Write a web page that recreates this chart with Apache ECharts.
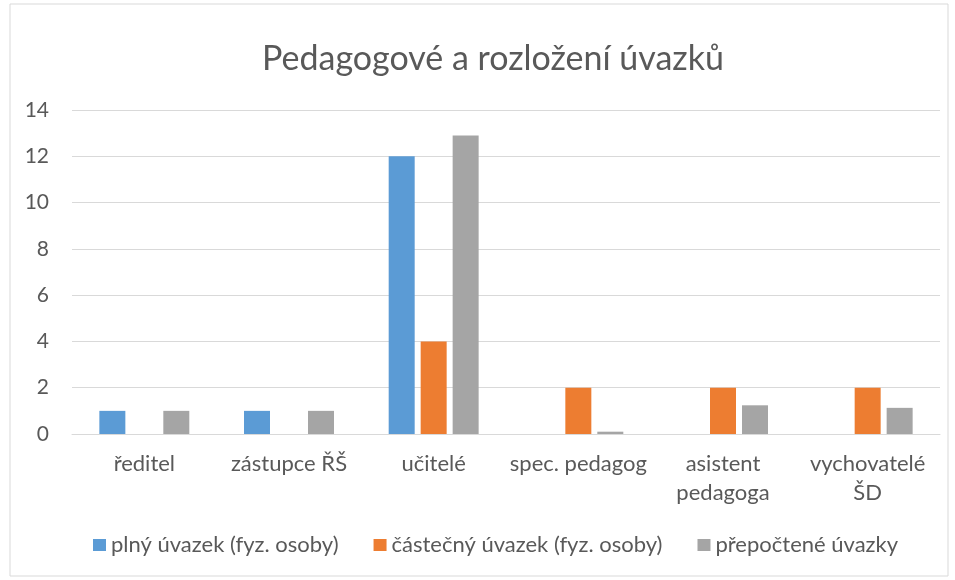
<!DOCTYPE html>
<html>
<head>
<meta charset="utf-8">
<script src="https://cdn.jsdelivr.net/npm/echarts@6/dist/echarts.min.js"></script>
<style>
  html, body { margin: 0; padding: 0; background: #fff; }
  #chart { width: 955px; height: 580px; }
</style>
</head>
<body>
<div id="chart"></div>
<script>
  // kategorie a hodnoty
  const categories = ["ředitel", "zástupce ŘŠ", "učitelé", "spec. pedagog", "asistent\npedagoga", "vychovatelé\nŠD"];
  const plnyUvazek = [1, 1, 12, null, null, null];
  const castecnyUvazek = [null, null, 4, 2, 2, 2];
  const prepocteneUvazky = [1, 1, 12.9, 0.1, 1.24, 1.13];

  const TEXT_COLOR = "#595959";
  const FONT = "Lato, 'Open Sans', sans-serif";

  const chart = echarts.init(document.getElementById("chart"));
  const option = {
    textStyle: { fontFamily: FONT },
    graphic: [{
      type: "rect",
      shape: { x: 10, y: 4, width: 938, height: 572 },
      style: { fill: "none", stroke: "#d9d9d9", lineWidth: 1 }
    }],
    title: {
      text: "Pedagogové a rozložení úvazků",
      left: 257,
      top: 37,
      textStyle: { color: TEXT_COLOR, fontSize: 34, fontWeight: "normal", fontFamily: FONT }
    },
    legend: {
      bottom: 19,
      left: 88,
      itemWidth: 13,
      itemHeight: 12,
      itemGap: 35,
      icon: "rect",
      textStyle: { color: TEXT_COLOR, fontSize: 22, fontFamily: FONT }
    },
    grid: { left: 72, right: 15, top: 110, bottom: 146 },
    xAxis: {
      type: "category",
      data: categories,
      axisTick: { show: false },
      axisLine: { lineStyle: { color: "#d9d9d9" } },
      axisLabel: { color: TEXT_COLOR, fontSize: 22, margin: 15, lineHeight: 29, interval: 0, fontFamily: FONT }
    },
    yAxis: {
      type: "value",
      min: 0,
      max: 14,
      interval: 2,
      axisLabel: { color: TEXT_COLOR, fontSize: 21, margin: 23, fontFamily: FONT },
      splitLine: { lineStyle: { color: "#d9d9d9" } }
    },
    series: [
      {
        name: "plný úvazek (fyz. osoby)",
        type: "bar",
        data: plnyUvazek,
        barWidth: 26,
        barGap: "23%",
        itemStyle: { color: "#5B9BD5" }
      },
      {
        name: "částečný úvazek (fyz. osoby)",
        type: "bar",
        data: castecnyUvazek,
        barWidth: 26,
        barGap: "23%",
        itemStyle: { color: "#ED7D31" }
      },
      {
        name: "přepočtené úvazky",
        type: "bar",
        data: prepocteneUvazky,
        barWidth: 26,
        barGap: "23%",
        itemStyle: { color: "#A5A5A5" }
      }
    ]
  };
  chart.setOption(option);
</script>
</body>
</html>
